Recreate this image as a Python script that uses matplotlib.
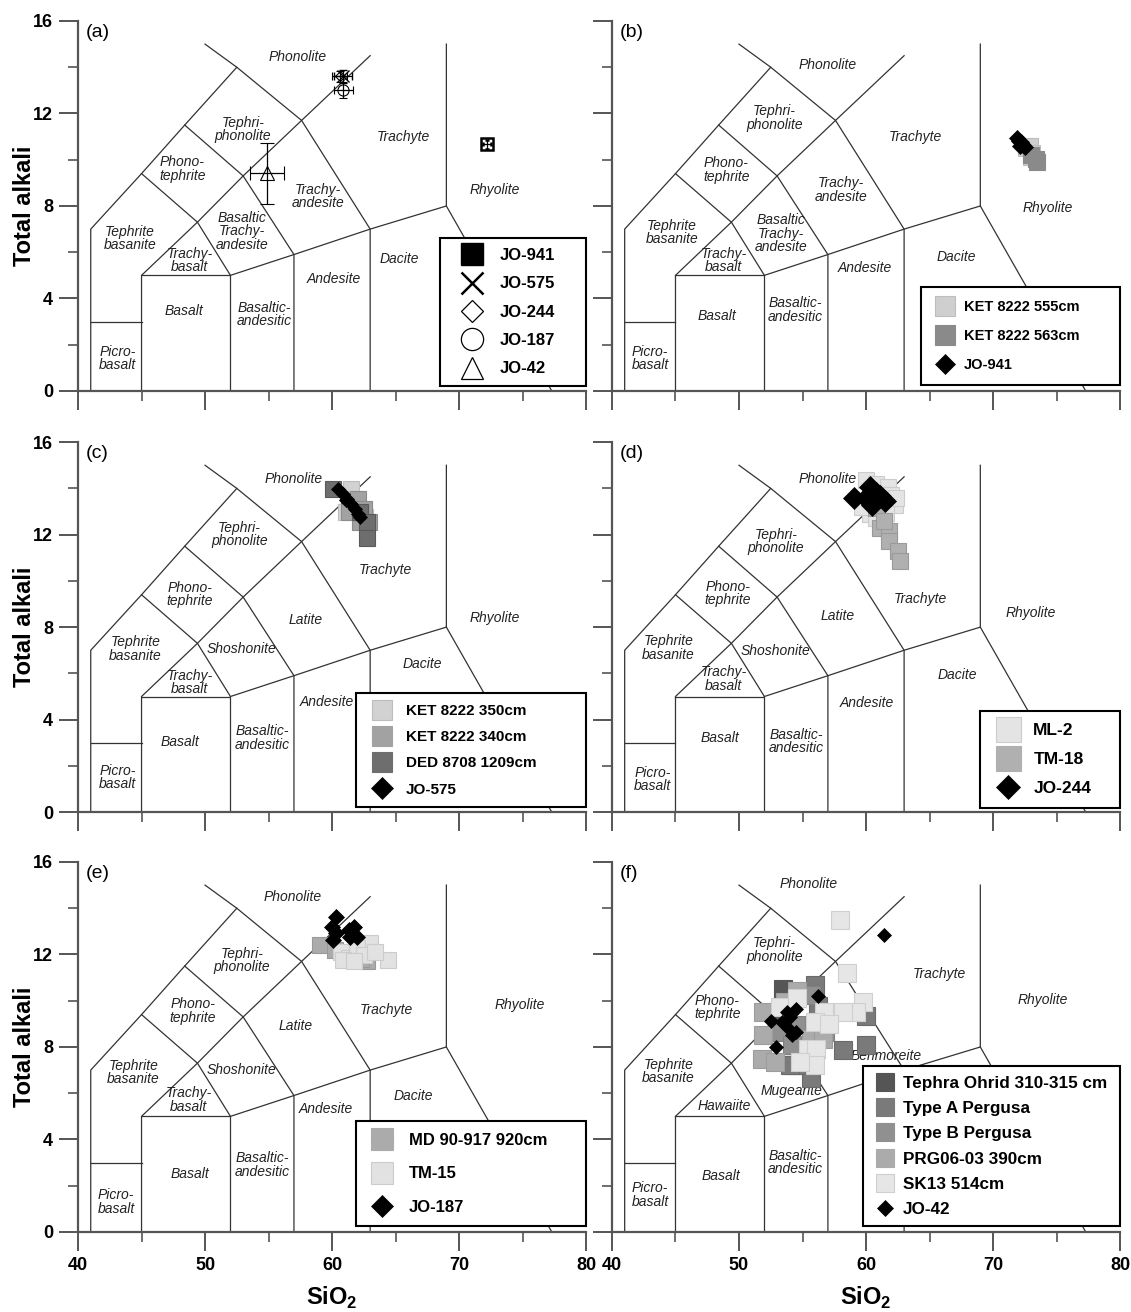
import numpy as np
import matplotlib.pyplot as plt
from matplotlib.lines import Line2D

plt.rcParams['font.family'] = ['Liberation Sans', 'DejaVu Sans']
plt.rcParams['mathtext.fontset'] = 'custom'
plt.rcParams['mathtext.bf'] = 'Liberation Sans:bold'
plt.rcParams['mathtext.rm'] = 'Liberation Sans:bold'

# TAS field boundaries (SiO2, total alkali)
tas_lines = [
    [(50, 15), (52.5, 14), (57.6, 11.7), (63, 7), (63, 0)],
    [(41, 0), (41, 7), (45, 9.4), (48.4, 11.5), (52.5, 14)],
    [(41, 3), (45, 3)],
    [(45, 0), (45, 5), (49.4, 7.3), (53, 9.3), (57.6, 11.7), (63, 14.5)],
    [(45, 5), (52, 5), (52, 0)],
    [(52, 5), (57, 5.9), (63, 7), (69, 8), (69, 15)],
    [(57, 0), (57, 5.9), (53, 9.3), (48.4, 11.5)],
    [(45, 9.4), (49.4, 7.3), (52, 5)],
    [(69, 8), (77.3, 0)],
]

# field names per panel (text, SiO2, alkali)
labels_a = [('Phonolite', 57.3, 14.45), ('Tephri-\nphonolite', 53.0, 11.3), ('Phono-\ntephrite', 48.2, 9.6),
            ('Trachy-\nandesite', 58.9, 8.4), ('Trachyte', 65.6, 11.0), ('Rhyolite', 72.8, 8.7),
            ('Tephrite\nbasanite', 44.1, 6.6), ('Basaltic\nTrachy-\nandesite', 52.9, 6.9),
            ('Trachy-\nbasalt', 48.8, 5.65), ('Dacite', 65.3, 5.7), ('Andesite', 60.1, 4.85),
            ('Basalt', 48.3, 3.45), ('Basaltic-\nandesitic', 54.7, 3.3), ('Picro-\nbasalt', 43.1, 1.4)]
labels_b = [('Phonolite', 57.0, 14.1), ('Tephri-\nphonolite', 52.8, 11.8), ('Phono-\ntephrite', 49.0, 9.55),
            ('Trachy-\nandesite', 58.0, 8.7), ('Trachyte', 63.9, 11.0), ('Rhyolite', 74.3, 7.9),
            ('Tephrite\nbasanite', 44.7, 6.85), ('Basaltic\nTrachy-\nandesite', 53.3, 6.8),
            ('Trachy-\nbasalt', 48.8, 5.65), ('Dacite', 67.1, 5.8), ('Andesite', 59.9, 5.3),
            ('Basalt', 48.3, 3.25), ('Basaltic-\nandesitic', 54.45, 3.5), ('Picro-\nbasalt', 43.0, 1.4)]
labels_c = [('Phonolite', 57.0, 14.4), ('Tephri-\nphonolite', 52.7, 12.0), ('Phono-\ntephrite', 48.8, 9.4),
            ('Latite', 57.9, 8.3), ('Trachyte', 64.2, 10.45), ('Rhyolite', 72.8, 8.4),
            ('Tephrite\nbasanite', 44.5, 7.05), ('Shoshonite', 52.9, 7.05),
            ('Trachy-\nbasalt', 48.8, 5.6), ('Dacite', 67.1, 6.4), ('Andesite', 59.6, 4.75),
            ('Basalt', 48.0, 3.05), ('Basaltic-\nandesitic', 54.5, 3.2), ('Picro-\nbasalt', 43.1, 1.5)]
labels_d = [('Phonolite', 57.0, 14.4), ('Tephri-\nphonolite', 52.9, 11.7), ('Phono-\ntephrite', 49.1, 9.45),
            ('Latite', 57.8, 8.5), ('Trachyte', 64.3, 9.2), ('Rhyolite', 73.0, 8.6),
            ('Tephrite\nbasanite', 44.45, 7.1), ('Shoshonite', 52.9, 6.95),
            ('Trachy-\nbasalt', 48.8, 5.75), ('Dacite', 67.2, 5.95), ('Andesite', 60.1, 4.7),
            ('Basalt', 48.5, 3.2), ('Basaltic-\nandesitic', 54.5, 3.05), ('Picro-\nbasalt', 43.2, 1.4)]
labels_e = [('Phonolite', 56.9, 14.5), ('Tephri-\nphonolite', 52.9, 11.75), ('Phono-\ntephrite', 49.05, 9.55),
            ('Latite', 57.15, 8.9), ('Trachyte', 64.3, 9.6), ('Rhyolite', 74.8, 9.8),
            ('Tephrite\nbasanite', 44.35, 6.9), ('Shoshonite', 52.9, 7.0),
            ('Trachy-\nbasalt', 48.7, 5.7), ('Dacite', 66.4, 5.9), ('Andesite', 59.5, 5.3),
            ('Basalt', 48.8, 2.5), ('Basaltic-\nandesitic', 54.5, 2.9), ('Picro-\nbasalt', 43.0, 1.3)]
labels_f = [('Phonolite', 55.45, 15.05), ('Tephri-\nphonolite', 52.8, 12.2), ('Phono-\ntephrite', 48.3, 9.7),
            ('Trachyte', 65.8, 11.15), ('Rhyolite', 73.9, 10.05), ('Benmoreite', 61.55, 7.6),
            ('Mugearite', 54.1, 6.1), ('Hawaiite', 48.85, 5.45), ('Tephrite\nbasanite', 44.45, 6.95),
            ('Basaltic-\nandesitic', 54.4, 3.0), ('Basalt', 48.6, 2.4), ('Picro-\nbasalt', 43.0, 1.6)]

# (a) JO samples, mean +- sd
a_names = ['JO-941', 'JO-575', 'JO-244', 'JO-187', 'JO-42']
a_x = [72.2, 60.85, 60.6, 60.9, 54.85]
a_y = [10.67, 13.6, 13.6, 13.0, 9.42]
a_xerr = [0.35, 0.7, 0.6, 0.78, 1.33]
a_yerr = [0.2, 0.3, 0.25, 0.35, 1.32]

# (b)
b_ket555_x = [72.6, 72.9, 73.1, 73.0]
b_ket555_y = [10.5, 10.6, 10.3, 10.1]
b_ket563_x = [73.0, 73.4, 73.5]
b_ket563_y = [10.2, 10.05, 9.9]
b_jo941_x = [71.9, 72.05, 72.2, 72.35, 72.5, 72.15]
b_jo941_y = [10.95, 10.8, 10.75, 10.65, 10.55, 10.6]

# (c)
c_ket350_x = [61.5, 61.06, 61.8, 62.6]
c_ket350_y = [13.98, 12.98, 13.55, 12.77]
c_ket340_x = [62.06, 62.5, 62.2, 61.3, 62.9]
c_ket340_y = [13.55, 13.1, 12.55, 12.98, 12.55]
c_ded_x = [60.1, 62.2, 62.75, 62.75]
c_ded_y = [13.98, 12.98, 12.55, 11.84]
c_jo575_x = [60.5, 60.9, 61.2, 61.5, 61.8, 62.06, 62.2, 61.06]
c_jo575_y = [13.98, 13.77, 13.55, 13.34, 13.12, 12.9, 12.77, 13.48]

# (d)
d_ml2_x = [60.0, 60.8, 61.7, 62.0, 62.3, 60.3, 60.8, 61.55, 62.4, 59.7]
d_ml2_y = [14.37, 14.2, 14.08, 13.73, 13.3, 12.9, 12.73, 12.94, 13.6, 13.2]
d_tm18_x = [60.8, 61.1, 61.8, 61.8, 62.55, 62.7, 61.4]
d_tm18_y = [13.16, 12.3, 12.16, 11.73, 11.3, 10.88, 12.6]
d_jo244_x = [60.3, 61.1, 61.5, 60.5, 59.97, 59.05, 60.8]
d_jo244_y = [14.08, 13.66, 13.44, 13.3, 13.58, 13.58, 13.8]

# (e)
e_md_x = [59.03, 60.2, 61.3, 62.75, 62.3]
e_md_y = [12.41, 12.2, 11.9, 11.7, 11.8]
e_tm15_x = [63.0, 64.4, 60.7, 61.3, 62.0, 62.5, 60.9, 61.75, 63.4]
e_tm15_y = [12.48, 11.77, 12.1, 11.84, 12.27, 11.98, 11.77, 11.7, 12.1]
e_jo187_x = [60.3, 60.0, 60.3, 60.05, 61.3, 61.75, 62.0, 61.45]
e_jo187_y = [13.62, 13.2, 12.91, 12.62, 13.05, 13.2, 12.77, 12.77]

# (f)
f_ohrid_x = [53.5, 54.2, 53.1]
f_ohrid_y = [10.5, 7.21, 9.2]
f_typea_x = [58.2, 60.0, 60.0, 56.2, 55.7, 54.5, 56.0, 54.0]
f_typea_y = [7.86, 8.07, 9.36, 9.79, 6.64, 7.21, 10.67, 7.21]
f_typeb_x = [53.1, 54.2, 55.66, 56.8, 54.5]
f_typeb_y = [8.64, 8.07, 10.24, 8.64, 8.93]
f_prg_x = [51.9, 51.9, 51.8, 52.8, 54.6, 53.6, 55.7, 56.6]
f_prg_y = [9.5, 8.5, 7.5, 7.36, 10.43, 9.93, 8.36, 8.36]
f_sk13_x = [57.96, 58.5, 59.8, 59.25, 58.2, 56.7, 55.95, 57.1, 55.4, 56.1, 55.95, 54.8, 53.2, 54.6]
f_sk13_y = [13.47, 11.21, 9.93, 9.5, 9.5, 9.5, 9.07, 9.0, 7.93, 7.93, 7.21, 7.36, 9.74, 10.1]
f_jo42_x = [61.4, 56.2, 52.5, 53.8, 54.5, 54.0, 53.9, 54.5, 54.2, 52.9, 53.4]
f_jo42_y = [12.86, 10.21, 9.14, 9.5, 9.64, 9.29, 8.79, 8.64, 8.5, 8.0, 9.07]

fig = plt.figure(figsize=(11.31, 13.12), dpi=100)
W, H = 0.4492, 0.282
lefts = [0.069, 0.5411]
bottoms = [0.702, 0.381, 0.061]
axes = []
for r in range(3):
    for c in range(2):
        axes.append(fig.add_axes([lefts[c], bottoms[r], W, H]))


def setup(ax, letter, labels, row, col):
    ax.set_xlim(40, 80)
    ax.set_ylim(0, 16)
    for s in ['top', 'right']:
        ax.spines[s].set_visible(False)
    for s in ['left', 'bottom']:
        ax.spines[s].set_color('#555555')
        ax.spines[s].set_linewidth(1.6)
    ax.spines['left'].set_bounds(0, 16)
    ax.set_xticks([40, 50, 60, 70, 80])
    ax.set_xticks([45, 55, 65, 75], minor=True)
    ax.set_yticks([0, 4, 8, 12, 16])
    ax.set_yticks([2, 6, 10, 14], minor=True)
    ax.tick_params(which='major', length=14, width=1.4, color='#555555',
                   labelsize=13, pad=4)
    ax.tick_params(which='minor', length=7, width=1.2, color='#555555')
    for t in ax.get_xticklabels() + ax.get_yticklabels():
        t.set_fontweight('bold')
    if row < 2:
        ax.tick_params(axis='x', labelbottom=False)
    else:
        ax.set_xlabel(r'SiO$_{\mathbf{2}}$', fontsize=17, fontweight='bold', labelpad=8)
    if col == 1:
        ax.tick_params(axis='y', labelleft=False)
    else:
        ax.set_ylabel('Total alkali', fontsize=17, fontweight='bold')
        ax.yaxis.set_label_coords(-0.083, 0.5)
    for line in tas_lines:
        xs, ys = zip(*line)
        ax.plot(xs, ys, color='#333333', lw=0.9, zorder=1, solid_joinstyle='miter')
    for txt, x, y in labels:
        ax.text(x, y, txt, fontsize=10, style='italic', color='#222222',
                ha='center', va='center', linespacing=0.95, zorder=2)
    ax.text(40.6, 15.5, letter, fontsize=14, va='center', ha='left')


def add_legend(ax, handles, names, x0, y0, fs, spacing, hl, htp, bp=0.5):
    leg = ax.legend(handles, names, loc='lower left', bbox_to_anchor=(x0, y0, 80 - x0, 1),
                    bbox_transform=ax.transData, mode='expand', frameon=True, fancybox=False,
                    framealpha=1, edgecolor='black', labelspacing=spacing,
                    handletextpad=htp, borderpad=bp, handlelength=hl, borderaxespad=0,
                    prop={'weight': 'bold', 'size': fs})
    leg.get_frame().set_linewidth(1.5)
    leg.set_zorder(10)


def sq(color, ms, edge=None):
    return dict(marker='s', ls='none', ms=ms, mfc=color, mec=edge or color, mew=0.8)


def dia(ms):
    return dict(marker='D', ls='none', ms=ms, mfc='black', mec='black', mew=0.5)


panels = [('(a)', labels_a), ('(b)', labels_b), ('(c)', labels_c),
          ('(d)', labels_d), ('(e)', labels_e), ('(f)', labels_f)]
for i, ax in enumerate(axes):
    setup(ax, panels[i][0], panels[i][1], i // 2, i % 2)

# (a)
ax = axes[0]
a_style = [dict(marker='s', ms=8, mfc='none', mec='black', mew=1.8),
           dict(marker='x', ms=8, mec='black', mew=1.0),
           dict(marker='D', ms=5, mfc='none', mec='black', mew=0.8),
           dict(marker='o', ms=8, mfc='none', mec='black', mew=0.8),
           dict(marker='^', ms=10, mfc='none', mec='black', mew=0.8)]
a_cap = [1.5, 3, 3, 3, 5]
for k in range(5):
    ax.errorbar([a_x[k]], [a_y[k]], xerr=[a_xerr[k]], yerr=[a_yerr[k]], ls='none',
                ecolor='black', elinewidth=0.9, capsize=a_cap[k], capthick=0.9,
                zorder=5, **a_style[k])
a_handles = [Line2D([], [], marker='s', ls='none', ms=16, mfc='black', mec='black'),
             Line2D([], [], marker='x', ls='none', ms=16, mec='black', mew=1.8),
             Line2D([], [], marker='D', ls='none', ms=11, mfc='none', mec='black', mew=0.9),
             Line2D([], [], marker='o', ls='none', ms=16, mfc='none', mec='black', mew=0.9),
             Line2D([], [], marker='^', ls='none', ms=16, mfc='none', mec='black', mew=0.9)]
add_legend(ax, a_handles, a_names, 68.5, 0.2, 12, 0.8, 2.6, 0.4, 0.6)

# (b)
ax = axes[1]
ax.plot(b_ket555_x, b_ket555_y, zorder=4, **sq('#cfcfcf', 11, '#bdbdbd'))
ax.plot(b_ket563_x, b_ket563_y, zorder=4, **sq('#8a8a8a', 11))
ax.plot(b_jo941_x, b_jo941_y, zorder=5, **dia(8))
add_legend(ax, [Line2D([], [], **sq('#cfcfcf', 14.5, '#bdbdbd')), Line2D([], [], **sq('#8a8a8a', 14.5)),
                Line2D([], [], **dia(10))],
           ['KET 8222 555cm', 'KET 8222 563cm', 'JO-941'], 64.3, 0.24, 10.5, 1.05, 1.6, 0.45, 0.9)

# (c)
ax = axes[2]
ax.plot(c_ket350_x, c_ket350_y, zorder=3, **sq('#d2d2d2', 12, '#bdbdbd'))
ax.plot(c_ket340_x, c_ket340_y, zorder=3, **sq('#a2a2a2', 12, '#8c8c8c'))
ax.plot(c_ded_x, c_ded_y, zorder=4, **sq('#6e6e6e', 12, '#5a5a5a'))
ax.plot(c_jo575_x, c_jo575_y, zorder=5, **dia(7.5))
add_legend(ax, [Line2D([], [], **sq('#d2d2d2', 15, '#bdbdbd')), Line2D([], [], **sq('#a2a2a2', 15)),
                Line2D([], [], **sq('#6e6e6e', 15)), Line2D([], [], **dia(11))],
           ['KET 8222 350cm', 'KET 8222 340cm', 'DED 8708 1209cm', 'JO-575'],
           61.9, 0.21, 11, 0.8, 2.0, 0.57, 0.7)

# (d)
ax = axes[3]
ax.plot(d_ml2_x, d_ml2_y, zorder=3, **sq('#e4e4e4', 12, '#cccccc'))
ax.plot(d_tm18_x, d_tm18_y, zorder=3, **sq('#b0b0b0', 12, '#9a9a9a'))
ax.plot(d_jo244_x, d_jo244_y, zorder=5, **dia(11))
add_legend(ax, [Line2D([], [], **sq('#e4e4e4', 18, '#cccccc')), Line2D([], [], **sq('#b0b0b0', 18)),
                Line2D([], [], **dia(12))],
           ['ML-2', 'TM-18', 'JO-244'], 69.0, 0.17, 12.5, 0.8, 1.8, 0.55, 0.7)

# (e)
ax = axes[4]
ax.plot(e_md_x, e_md_y, zorder=3, **sq('#ababab', 12, '#999999'))
ax.plot(e_tm15_x, e_tm15_y, zorder=3, **sq('#e2e2e2', 12, '#cccccc'))
ax.plot(e_jo187_x, e_jo187_y, zorder=5, **dia(8))
add_legend(ax, [Line2D([], [], **sq('#ababab', 16)), Line2D([], [], **sq('#e2e2e2', 16, '#cccccc')),
                Line2D([], [], **dia(11))],
           ['MD 90-917 920cm', 'TM-15', 'JO-187'], 61.9, 0.24, 12, 1.1, 1.75, 0.69, 0.7)

# (f)
ax = axes[5]
ax.plot(f_ohrid_x, f_ohrid_y, zorder=3, **sq('#555555', 13))
ax.plot(f_typea_x, f_typea_y, zorder=3, **sq('#7a7a7a', 13, '#6a6a6a'))
ax.plot(f_typeb_x, f_typeb_y, zorder=3, **sq('#909090', 13, '#808080'))
ax.plot(f_prg_x, f_prg_y, zorder=3, **sq('#ababab', 13, '#9c9c9c'))
ax.plot(f_sk13_x, f_sk13_y, zorder=4, **sq('#e6e6e6', 13, '#cfcfcf'))
ax.plot(f_jo42_x, f_jo42_y, zorder=5, **dia(7.5))
add_legend(ax, [Line2D([], [], **sq('#555555', 13.5)), Line2D([], [], **sq('#7a7a7a', 13.5)),
                Line2D([], [], **sq('#909090', 13.5)), Line2D([], [], **sq('#ababab', 13.5)),
                Line2D([], [], **sq('#e6e6e6', 13.5, '#cfcfcf')), Line2D([], [], **dia(8))],
           ['Tephra Ohrid 310-315 cm', 'Type A Pergusa', 'Type B Pergusa', 'PRG06-03 390cm',
            'SK13 514cm', 'JO-42'], 59.8, 0.24, 12.3, 0.6, 1.38, 0.4, 0.55)

fig.savefig('out.png', dpi=100)
